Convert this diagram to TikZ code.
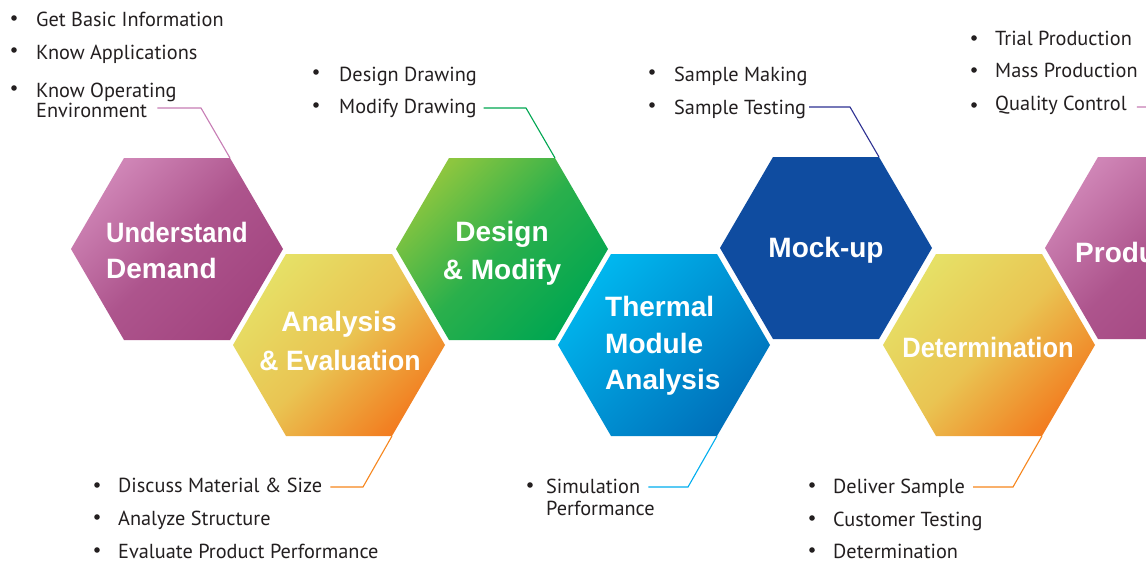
\documentclass[tikz,border=0pt]{standalone}
\usepackage{fontspec}
\usetikzlibrary{calc}
\newfontfamily\hexfont{Liberation Sans}
\newfontfamily\hexnarrow{Liberation Sans}[FakeStretch=0.91]
\newfontfamily\hexslim{Liberation Sans}[FakeStretch=0.95]
\newfontfamily\listfont{PT Sans}
\definecolor{txt}{HTML}{231F20}
\definecolor{pkA}{HTML}{CF85B6}
\definecolor{pkB}{HTML}{A2447F}
\definecolor{yeA}{HTML}{E6E066}
\definecolor{yeB}{HTML}{F27D20}
\definecolor{grA}{HTML}{8DC63F}
\definecolor{grB}{HTML}{00A651}
\definecolor{blA}{HTML}{00B6EE}
\definecolor{blB}{HTML}{0070BA}
\definecolor{mkC}{HTML}{0F4CA0}
\definecolor{lnPk}{HTML}{C77DB5}
\definecolor{lnGr}{HTML}{00A651}
\definecolor{lnNv}{HTML}{2E3192}
\definecolor{lnOr}{HTML}{F7861D}
\definecolor{lnCy}{HTML}{00AEEF}
\colorlet{pkM}{pkB!75!pkA}
\colorlet{yeM}{yeA!72!yeB}
\colorlet{grM}{grB!70!grA}
\colorlet{blM}{blA!50!blB}
\tikzset{
  hexlbl/.style={inner sep=0pt, text=white, font=\hexfont\bfseries\fontsize{28}{34}\selectfont},
  item/.style={anchor=base west, inner sep=0pt, text=txt, font=\listfont\fontsize{20.3}{22}\selectfont},
  bul/.style={fill=txt},
  conn/.style={line width=1.1pt},
}
\newcommand\hexcell[6]{%
  \shade[top color=#4, bottom color=#6, middle color=#5, shading angle=45]
    (#2-106,#3) -- (#2-53,#3-91) -- (#2+53,#3-91) -- (#2+106,#3)
    -- (#2+53,#3+91) -- (#2-53,#3+91) -- cycle;
  \coordinate (#1-tr) at (#2+53,#3-91);
  \coordinate (#1-br) at (#2+53,#3+91);}
\begin{document}
\begin{tikzpicture}[x=1pt,y=-1pt]
\clip (0,0) rectangle (1146,562);
\fill[white] (0,0) rectangle (1146,562);
% hexagons
\hexcell{ud}{177}{249}{pkA}{pkM}{pkB}
\hexcell{ae}{339}{345}{yeA}{yeM}{yeB}
\hexcell{dm}{502}{249}{grA}{grM}{grB}
\hexcell{tm}{664}{345}{blA}{blM}{blB}
\hexcell{mu}{826}{248}{mkC}{mkC}{mkC}
\hexcell{de}{989}{345}{yeA}{yeM}{yeB}
\hexcell{pr}{1151}{248}{pkA}{pkM}{pkB}
% hexagon labels
\node[hexlbl, anchor=base west] (ud1) at (106,242) {\hexnarrow\bfseries Understand};
\node[hexlbl, anchor=base west] (ud2) at (106,278) {Demand};
\node[hexlbl, anchor=base] (ae1) at (339,331) {Analysis};
\node[hexlbl, anchor=base] (ae2) at (340,370) {\hexslim\bfseries\& Evaluation};
\node[hexlbl, anchor=base] (dm1) at (502,241) {Design};
\node[hexlbl, anchor=base] (dm2) at (502,279) {\& Modify};
\node[hexlbl, anchor=base west] (tm1) at (605,316) {Thermal};
\node[hexlbl, anchor=base west] (tm2) at (605,353) {Module};
\node[hexlbl, anchor=base west] (tm3) at (605,389) {Analysis};
\node[hexlbl, anchor=base] (mu1) at (826,257) {Mock-up};
\node[hexlbl, anchor=base] (de1) at (988,357) {\hexnarrow\bfseries Determination};
\node[hexlbl, anchor=base west] (pr1) at (1075,262) {Production};
% list: understand demand
\node[item] (a1) at (36,27) {Get Basic Information};
\node[item] (a2) at (36,59) {Know Applications};
\node[item] (a3) at (36,97) {Know Operating};
\node[item] (a4) at (36,117) {Environment};
\foreach \y in {18,50,88} \fill[bul] (14,\y) circle (2.8);
% list: design
\node[item] (b1) at (339,81) {Design Drawing};
\node[item] (b2) at (339,113) {Modify Drawing};
\foreach \y in {72,105} \fill[bul] (316,\y) circle (2.8);
% list: mock-up
\node[item] (c1) at (674,81) {Sample Making};
\node[item] (c2) at (674,114) {Sample Testing};
\foreach \y in {72,105} \fill[bul] (652,\y) circle (2.8);
% list: production
\node[item] (d1) at (995,45) {Trial Production};
\node[item] (d2) at (995,77) {Mass Production};
\node[item] (d3) at (995,110) {Quality Control};
\foreach \y in {38,70,105} \fill[bul] (974,\y) circle (2.8);
% list: analysis
\node[item] (e1) at (118,492) {Discuss Material \& Size};
\node[item] (e2) at (118,525) {Analyze Structure};
\node[item] (e3) at (118,558) {Evaluate Product Performance};
\foreach \y in {485,517,550} \fill[bul] (97,\y) circle (2.8);
% list: thermal
\node[item] (f1) at (546,493) {Simulation};
\node[item] (f2) at (546,515) {Performance};
\fill[bul] (530,485) circle (2.8);
% list: determination
\node[item] (g1) at (833,493) {Deliver Sample};
\node[item] (g2) at (833,526) {Customer Testing};
\node[item] (g3) at (833,558) {Determination};
\foreach \y in {485,518,550} \fill[bul] (812,\y) circle (2.8);
% connectors (top)
\draw[conn, lnPk] (ud-tr) -- ++(-29,-50) coordinate (udk) -- ($(udk -| a4.east)+(10,0)$);
\draw[conn, lnGr] (dm-tr) -- ++(-29,-50) coordinate (dmk) -- ($(dmk -| b2.east)+(7,0)$);
\draw[conn, lnNv] (mu-tr) -- ++(-29,-50) coordinate (muk) -- ($(muk -| c2.east)+(3,0)$);
\draw[conn, lnPk] (pr-tr) -- ++(-29,-50) coordinate (prk) -- ($(prk -| d3.east)+(10,0)$);
% connectors (bottom)
\draw[conn, lnOr] (ae-br) -- ++(-29,51) coordinate (aek) -- ($(aek -| e1.east)+(8,0)$);
\draw[conn, lnCy] (tm-br) -- ++(-29,51) coordinate (tmk) -- ($(tmk -| f1.east)+(8,0)$);
\draw[conn, lnOr] (de-br) -- ++(-29,51) coordinate (dek) -- ($(dek -| g1.east)+(8,0)$);
\end{tikzpicture}
\end{document}
